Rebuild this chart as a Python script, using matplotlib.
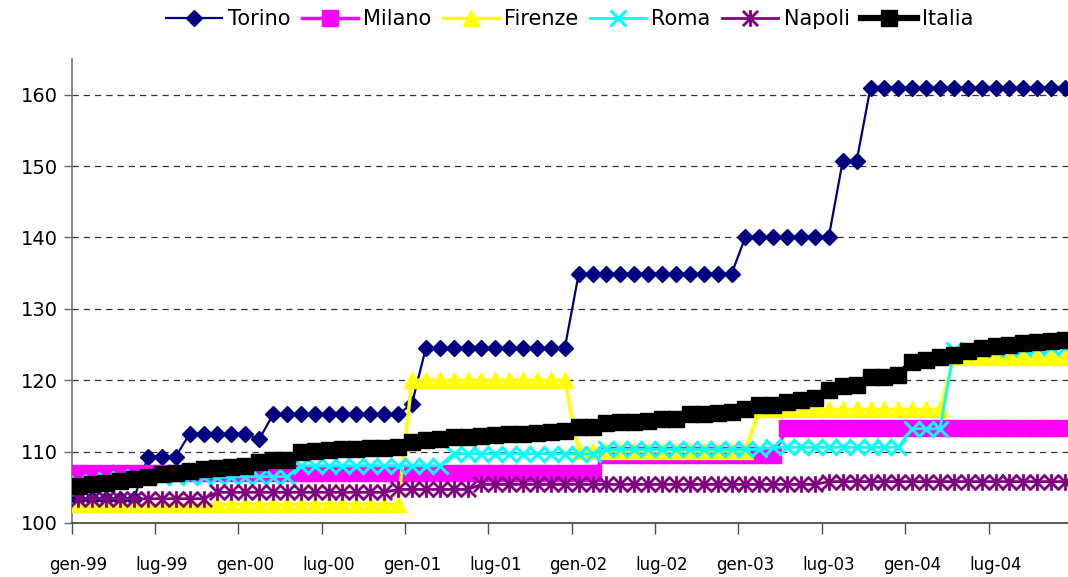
import numpy as np
import matplotlib.pyplot as plt
from matplotlib.path import Path

plt.rcParams.update({
    "font.family": "DejaVu Sans",
    "font.size": 13,
})

# monthly categories gen-99 ... dic-04
mesi = ["gen", "feb", "mar", "apr", "mag", "giu", "lug", "ago", "set", "ott", "nov", "dic"]
anni = ["99", "00", "01", "02", "03", "04"]
categorie = [f"{m}-{a}" for a in anni for m in mesi]

torino = [
    103.4, 103.4, 103.4, 103.4, 103.4, 109.3, 109.3, 109.3, 112.5, 112.5, 112.5, 112.5,
    112.5, 111.7, 115.2, 115.2, 115.2, 115.2, 115.2, 115.2, 115.2, 115.2, 115.2, 115.2,
    116.7, 124.5, 124.5, 124.5, 124.5, 124.5, 124.5, 124.5, 124.5, 124.5, 124.5, 124.5,
    134.9, 134.9, 134.9, 134.9, 134.9, 134.9, 134.9, 134.9, 134.9, 134.9, 134.9, 134.9,
    140.1, 140.1, 140.1, 140.1, 140.1, 140.1, 140.1, 150.7, 150.7, 161.0, 161.0, 161.0,
    161.0, 161.0, 161.0, 161.0, 161.0, 161.0, 161.0, 161.0, 161.0, 161.0, 161.0, 161.0,
]
milano = [
    107.0, 107.0, 107.0, 107.0, 107.0, 107.0, 107.0, 107.0, 107.0, 107.0, 107.0, 107.0,
    107.0, 107.0, 107.0, 107.0, 107.0, 107.0, 107.0, 107.0, 107.0, 107.0, 107.0, 107.0,
    107.0, 107.0, 107.0, 107.0, 107.0, 107.0, 107.0, 107.0, 107.0, 107.0, 107.0, 107.0,
    107.0, 107.0, 109.5, 109.5, 109.5, 109.5, 109.5, 109.5, 109.5, 109.5, 109.5, 109.5,
    109.5, 109.5, 109.5, 113.3, 113.3, 113.3, 113.3, 113.3, 113.3, 113.3, 113.3, 113.3,
    113.3, 113.3, 113.3, 113.3, 113.3, 113.3, 113.3, 113.3, 113.3, 113.3, 113.3, 113.3,
]
firenze = [
    102.6, 102.6, 102.6, 102.6, 102.6, 102.6, 102.6, 102.6, 102.6, 102.6, 102.6, 102.6,
    102.6, 102.6, 102.6, 102.6, 102.6, 102.6, 102.6, 102.6, 102.6, 102.6, 102.6, 102.6,
    120.0, 120.0, 120.0, 120.0, 120.0, 120.0, 120.0, 120.0, 120.0, 120.0, 120.0, 120.0,
    110.1, 110.1, 110.1, 110.1, 110.1, 110.1, 110.1, 110.1, 110.1, 110.1, 110.1, 110.1,
    110.1, 115.9, 115.9, 115.9, 115.9, 115.9, 115.9, 115.9, 115.9, 115.9, 115.9, 115.9,
    115.9, 115.9, 115.9, 123.2, 123.2, 123.2, 123.2, 123.2, 123.2, 123.2, 123.2, 123.2,
]
roma = [
    105.6, 105.8, 106.0, 106.2, 106.4, 106.4, 106.4, 106.4, 106.4, 106.4, 106.4, 106.4,
    106.5, 106.5, 106.5, 106.5, 108.0, 108.0, 108.0, 108.0, 108.0, 108.0, 108.0, 108.0,
    108.0, 108.0, 108.0, 109.7, 109.7, 109.7, 109.7, 109.7, 109.7, 109.7, 109.7, 109.7,
    109.7, 109.7, 110.3, 110.3, 110.3, 110.3, 110.3, 110.3, 110.3, 110.3, 110.3, 110.3,
    110.3, 110.3, 110.6, 110.6, 110.6, 110.6, 110.6, 110.6, 110.6, 110.6, 110.6, 110.6,
    113.2, 113.2, 113.2, 124.2, 124.3, 124.4, 124.4, 124.5, 124.5, 124.6, 124.6, 124.7,
]
napoli = [
    103.4, 103.4, 103.4, 103.4, 103.4, 103.4, 103.4, 103.4, 103.4, 103.4, 104.3, 104.3,
    104.3, 104.3, 104.3, 104.3, 104.3, 104.3, 104.3, 104.3, 104.3, 104.3, 104.3, 104.7,
    104.7, 104.7, 104.7, 104.7, 104.7, 105.4, 105.4, 105.4, 105.4, 105.4, 105.4, 105.4,
    105.4, 105.4, 105.4, 105.4, 105.4, 105.4, 105.4, 105.4, 105.4, 105.4, 105.4, 105.4,
    105.4, 105.4, 105.4, 105.4, 105.4, 105.4, 105.8, 105.8, 105.8, 105.8, 105.8, 105.8,
    105.8, 105.8, 105.8, 105.8, 105.8, 105.8, 105.8, 105.8, 105.8, 105.8, 105.8, 105.8,
]
italia = [
    105.25, 105.4, 105.6, 105.9, 106.2, 106.5, 106.8, 107.0, 107.3, 107.5, 107.7, 107.9,
    108.0, 108.6, 108.8, 108.8, 110.0, 110.1, 110.2, 110.3, 110.4, 110.5, 110.5, 110.6,
    111.3, 111.6, 111.8, 112.0, 112.1, 112.2, 112.3, 112.4, 112.5, 112.6, 112.7, 112.9,
    113.4, 113.5, 114.0, 114.1, 114.2, 114.3, 114.5, 114.6, 115.2, 115.3, 115.4, 115.5,
    116.0, 116.5, 116.6, 116.9, 117.3, 117.5, 118.6, 119.2, 119.4, 120.4, 120.5, 120.7,
    122.6, 122.8, 123.2, 123.5, 124.1, 124.5, 124.8, 125.0, 125.2, 125.3, 125.5, 125.6,
]

# Excel-like asterisk marker (x with a vertical bar)
asterisco = Path([(-1, -1), (1, 1), (-1, 1), (1, -1), (0, -1.1), (0, 1.1)],
                 [Path.MOVETO, Path.LINETO, Path.MOVETO, Path.LINETO, Path.MOVETO, Path.LINETO])

x = np.arange(len(categorie))

fig = plt.figure(figsize=(10.68, 5.77), dpi=100)
ax = fig.add_axes([71.5 / 1068, 1 - 523 / 577, 1000.5 / 1068, 464 / 577])

ax.plot(x, torino, color="#000080", lw=1.6, marker="D", ms=8.5,
        mfc="#000080", mec="#000080", label="Torino", zorder=3)
ax.plot(x, milano, color="#FF00FF", lw=2.5, marker="s", ms=12,
        mfc="#FF00FF", mec="#FF00FF", label="Milano", zorder=3)
ax.plot(x, firenze, color="#FFFF00", lw=2.5, marker="^", ms=11,
        mfc="#FFFF00", mec="#FFFF00", label="Firenze", zorder=3)
ax.plot(x, roma, color="#00FFFF", lw=2.0, marker="x", ms=11, mew=2.2,
        mec="#00FFFF", label="Roma", zorder=3)
ax.plot(x, napoli, color="#800080", lw=2.0, marker=asterisco, ms=12, mew=2.0,
        mfc="none", mec="#800080", label="Napoli", zorder=3)
ax.plot(x, italia, color="#000000", lw=4.5, marker="s", ms=11,
        mfc="#000000", mec="#000000", label="Italia", zorder=3)

ax.set_xlim(-0.5, 71.5)
ax.set_ylim(100, 165)

ax.set_yticks(np.arange(100, 161, 10))
ax.yaxis.grid(True, color="0.2", linestyle=(0, (5, 4)), linewidth=0.9, zorder=0)
ax.set_axisbelow(True)
ax.tick_params(axis="y", length=6, width=1.0, color="0.4", labelsize=14, pad=4)

# ticks between categories, labels centred on the category
ax.set_xticks(np.arange(-0.5, 72, 6))
ax.set_xticklabels([])
ax.set_xticks(x[::6], minor=True)
ax.set_xticklabels(categorie[::6], minor=True)
ax.tick_params(axis="x", which="major", length=8, width=1.0, color="0.3")
ax.tick_params(axis="x", which="minor", length=0, labelsize=12, pad=24)

ax.spines["top"].set_visible(False)
ax.spines["right"].set_visible(False)
ax.spines["left"].set_color("0.45")
ax.spines["left"].set_linewidth(1.2)
ax.spines["bottom"].set_color("0.25")
ax.spines["bottom"].set_linewidth(1.2)

fig.legend(loc="center", bbox_to_anchor=(570 / 1068, 1 - 19 / 577), ncol=6,
           frameon=False, fontsize=15, handlelength=2.7, handletextpad=0.25,
           columnspacing=0.55, borderpad=0)

fig.savefig("out.png", dpi=100)
